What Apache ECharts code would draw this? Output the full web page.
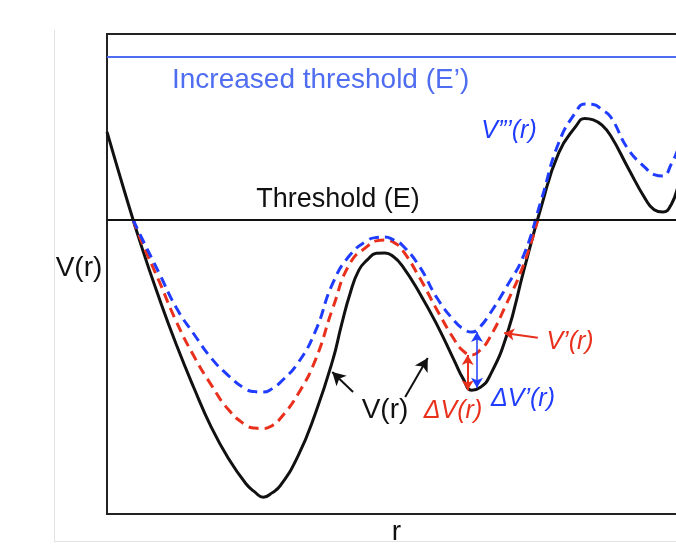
<!DOCTYPE html>
<html>
<head>
<meta charset="utf-8">
<script src="https://cdn.jsdelivr.net/npm/echarts@6/dist/echarts.min.js"></script>
<style>
  html, body { margin: 0; background: #fff; }
  #main { width: 676px; height: 544px; }
</style>
</head>
<body>
<div id="main"></div>
<script>
// potential curves, [r, V] in arbitrary units (r 0..100, V 0..100)
var V = [[0, 79.6], [3, 67.3], [6, 55.6], [9, 45.0], [12, 35.2], [15, 26.3], [18, 18.1], [21, 11.5],
  [24, 6.3], [25.5, 4.6], [27, 3.5], [28.5, 4.4], [30, 6.0], [33, 12.1], [36, 21.0], [39, 32.1],
  [40.5, 39.4], [42, 46.0], [43.5, 50.8], [45, 53.0], [46.5, 54.3], [48, 54.4], [49.5, 53.6], [51, 51.7],
  [54, 46.0], [57, 39.4], [60, 31.9], [61.5, 28.2], [63, 25.8], [64.5, 26.4], [66, 28.5], [69, 37.1],
  [72, 50.8], [75, 64.0], [78, 75.2], [81, 80.8], [82.5, 82.4], [84, 82.1], [85.5, 81.0], [87, 78.8],
  [90, 72.1], [93, 65.6], [94.5, 63.4], [96, 62.9], [97.5, 64.6], [99, 69.6], [100, 72.5]];
var V1 = [[4.5, 61.3], [6, 56.7], [9, 48.5], [12, 40.0], [15, 32.9], [18, 26.9], [21, 21.7], [24, 18.5],
  [25.5, 17.9], [27, 17.8], [28.5, 18.4], [30, 20.0], [33, 25.0], [36, 32.1], [39, 42.9], [42, 52.3],
  [45, 55.8], [46.5, 56.9], [48, 57.1], [49.5, 56.6], [51, 55.0], [54, 49.2], [57, 42.5], [60, 36.3],
  [61.5, 34.0], [63, 33.1], [64.5, 34.2], [66, 36.5], [69, 43.8], [72, 52.1], [74.4, 61.3]];
var V2 = [[4.5, 61.3], [6, 57.5], [9, 50.2], [12, 42.9], [15, 37.5], [18, 32.5], [21, 28.8], [24, 26.0],
  [25.5, 25.5], [27, 25.4], [28.5, 26.1], [30, 27.5], [33, 31.5], [36, 38.1], [39, 48.1], [42, 54.0],
  [45, 57.0], [46.5, 57.6], [48, 57.7], [49.5, 57.1], [51, 56.0], [54, 51.5], [57, 45.0], [60, 40.2],
  [61.5, 38.6], [63, 37.9], [64.5, 39.1], [66, 41.5], [69, 47.3], [72, 54.0], [75, 65.4], [78, 77.3],
  [81, 83.8], [82.5, 85.4], [84, 85.3], [85.5, 84.2], [87, 82.7], [90, 76.0], [93, 72.1], [94.5, 70.7],
  [96, 70.4], [97.5, 73.0], [99, 76.9], [100, 79.0]];
var E = 61.3;       // threshold
var E2 = 95.2;      // increased threshold
// annotation arrows: [r1, V1, r2, V2]
var dV = [62.3, 25.8, 62.3, 33.1];
var dV2 = [63.9, 26.3, 63.9, 37.9];
var pV1 = [74.4, 36.7, 68.6, 37.7];
var pV = [[42.5, 25.4, 38.9, 29.6], [51.5, 24.4, 55.4, 32.5]];

var black = '#111', red = '#e8301c', blue = '#1f3cff', lightBlue = '#4f6df0';
var font = '"Liberation Sans", Arial, Helvetica, sans-serif';

function arrow(a, color, both) {
  return [
    { coord: [a[0], a[1]], symbol: both ? 'arrow' : 'none', lineStyle: { color: color } },
    { coord: [a[2], a[3]], symbol: 'arrow' }
  ];
}

var myChart = echarts.init(document.getElementById('main'));
myChart.setOption({
  animation: false,
  grid: {
    left: 107, top: 34, width: 579, height: 480, outerBoundsMode: 'none',
    show: true, borderColor: '#222', borderWidth: 2
  },
  xAxis: {
    type: 'value', min: 0, max: 100,
    axisLine: { show: false }, axisTick: { show: false }, axisLabel: { show: false }, splitLine: { show: false },
    name: 'r', nameLocation: 'middle', nameGap: 4,
    nameTextStyle: { fontSize: 28, color: black, fontFamily: font }
  },
  yAxis: {
    type: 'value', min: 0, max: 100,
    axisLine: { show: false }, axisTick: { show: false }, axisLabel: { show: false }, splitLine: { show: false }
  },
  series: [
    {
      name: 'V(r)', type: 'line', data: V, smooth: 0.5, symbol: 'none',
      lineStyle: { color: black, width: 3 },
      markLine: {
        silent: true, symbol: 'none', symbolSize: [11, 13], label: { show: false },
        lineStyle: { color: black, width: 2, type: 'solid' },
        data: [
          [{ coord: [0, E] }, { coord: [100, E] }],
          arrow(pV[0], black, false),
          arrow(pV[1], black, false)
        ]
      }
    },
    {
      name: "V'(r)", type: 'line', data: V1, smooth: 0.5, symbol: 'none',
      lineStyle: { color: red, width: 3, type: [10, 6] },
      markLine: {
        silent: true, symbol: 'none', symbolSize: [9, 10], label: { show: false },
        lineStyle: { color: red, width: 2, type: 'solid' },
        data: [arrow(dV, red, true), arrow(pV1, red, false)]
      }
    },
    {
      name: "V''(r)", type: 'line', data: V2, smooth: 0.5, symbol: 'none',
      lineStyle: { color: blue, width: 3, type: [10, 6] },
      markLine: {
        silent: true, symbol: 'none', symbolSize: [9, 10], label: { show: false },
        lineStyle: { color: blue, width: 1.5, type: 'solid' },
        data: [
          [{ coord: [0, E2], lineStyle: { color: lightBlue, width: 2 } }, { coord: [100, E2] }],
          arrow(dV2, blue, true)
        ]
      }
    }
  ],
  graphic: [
    { type: 'line', shape: { x1: 54.5, y1: 30, x2: 54.5, y2: 541 }, style: { stroke: '#e2e2e2', lineWidth: 1 } },
    { type: 'line', shape: { x1: 54, y1: 541.5, x2: 676, y2: 541.5 }, style: { stroke: '#e2e2e2', lineWidth: 1 } },
    { type: 'text', x: 79, y: 268, style: { text: 'V(r)', fill: black, font: '28px ' + font, align: 'center', verticalAlign: 'middle' } },
    { type: 'text', left: 172, top: 66, style: { text: 'Increased threshold (E\u2019)', fill: lightBlue, font: '28px ' + font } },
    { type: 'text', x: 338, y: 200, style: { text: 'Threshold (E)', fill: black, font: '27px ' + font, align: 'center', verticalAlign: 'middle' } },
    { type: 'text', x: 385, y: 410, style: { text: 'V(r)', fill: black, font: '28px ' + font, align: 'center', verticalAlign: 'middle' } },
    { type: 'text', x: 509, y: 131, style: { text: 'V\u201D\u2019(r)', fill: blue, font: 'italic 25px ' + font, align: 'center', verticalAlign: 'middle' } },
    { type: 'text', x: 570, y: 342, style: { text: 'V\u2019(r)', fill: red, font: 'italic 25px ' + font, align: 'center', verticalAlign: 'middle' } },
    { type: 'text', x: 453, y: 411, style: { text: '\u0394V(r)', fill: red, font: 'italic 25px ' + font, align: 'center', verticalAlign: 'middle' } },
    { type: 'text', x: 523, y: 399, style: { text: '\u0394V\u2019(r)', fill: blue, font: 'italic 25px ' + font, align: 'center', verticalAlign: 'middle' } }
  ]
});
</script>
</body>
</html>
